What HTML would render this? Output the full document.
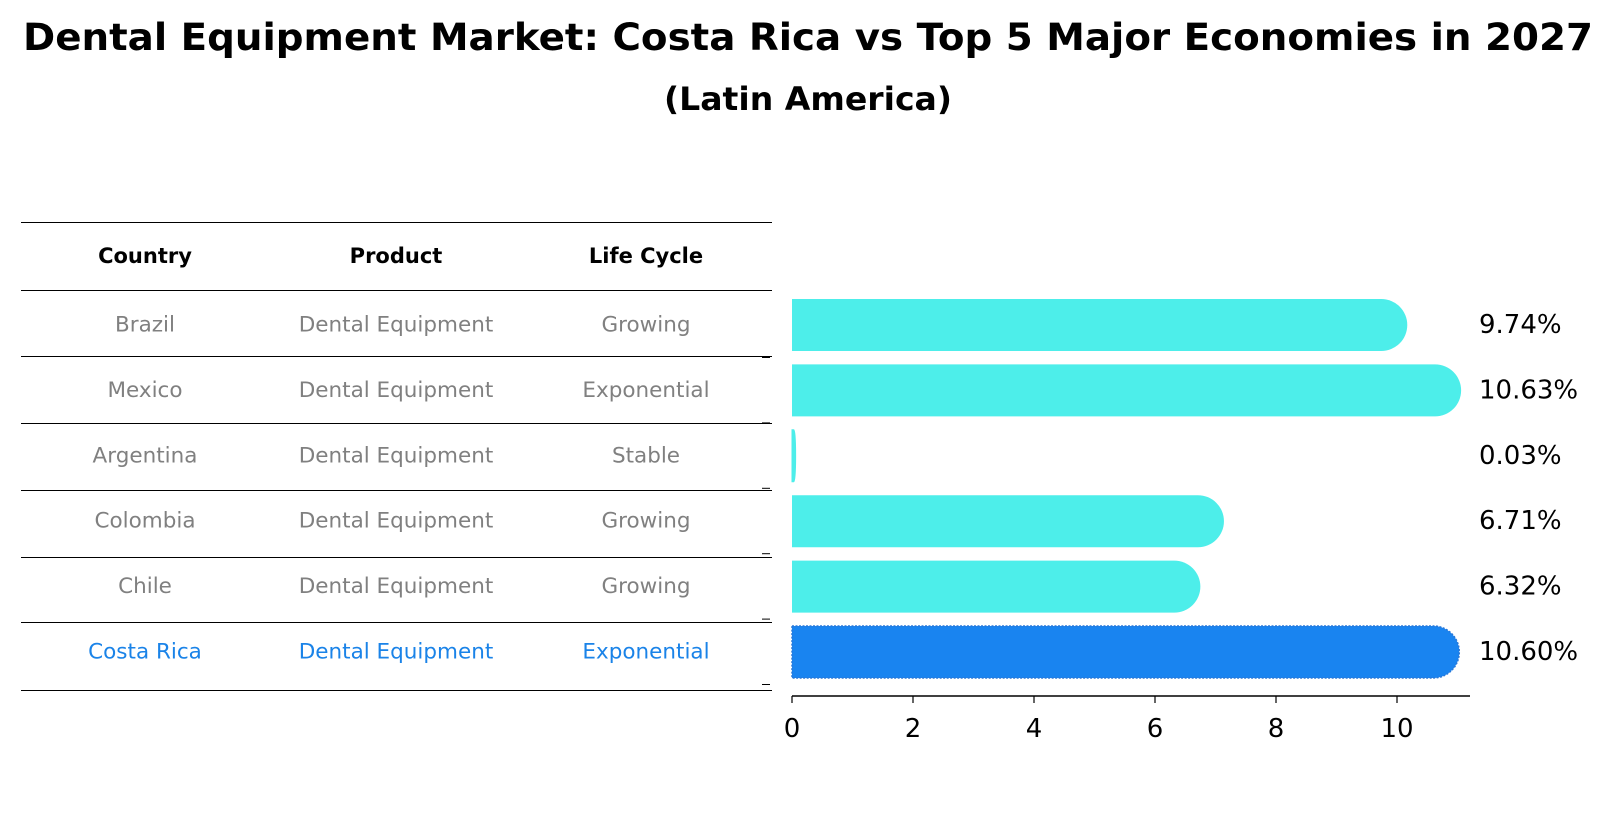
<!DOCTYPE html>
<html><head><meta charset="utf-8"><style>
body{margin:0;background:#fff;}
svg{display:block;font-family:"DejaVu Sans","Liberation Sans",sans-serif;}
</style></head><body>
<svg id="c" width="1613" height="823" viewBox="0 0 1613 823">
<text x="808" y="50" text-anchor="middle" font-size="37" font-weight="bold" textLength="1570" lengthAdjust="spacingAndGlyphs">Dental Equipment Market: Costa Rica vs Top 5 Major Economies in 2027</text>
<text x="808" y="110" text-anchor="middle" font-size="32" font-weight="bold" textLength="288" lengthAdjust="spacingAndGlyphs">(Latin America)</text>
<g id="table"></g>
<g id="bars"></g>
</svg>
<script>
const countries=["Brazil","Mexico","Argentina","Colombia","Chile","Costa Rica"];
const products=["Dental Equipment","Dental Equipment","Dental Equipment","Dental Equipment","Dental Equipment","Dental Equipment"];
const lifecycles=["Growing","Exponential","Stable","Growing","Growing","Exponential"];
const values=[9.74,10.63,0.03,6.71,6.32,10.60];
const valueLabels=["9.74%","10.63%","0.03%","6.71%","6.32%","10.60%"];
const ticks=[0,2,4,6,8,10];
const NS="http://www.w3.org/2000/svg";
function mk(t,a,p){const e=document.createElementNS(NS,t);for(const k in a)e.setAttribute(k,a[k]);p.appendChild(e);return e;}
const X0=792,PX=60.5;
function xs(v){return X0+v*PX;}
const rowY=[325,390,456,523,587.5,652];
function ys(i){return rowY[0]+i*(rowY[5]-rowY[0])/5;}
const tbl=document.getElementById('table');
const lineY=[222.5,290.5,356.5,423.5,490.5,557.5,622.5,690.5];
lineY.forEach((y,i)=>{const l=mk('line',{x1:21,x2:772,y1:y,y2:y,stroke:'#000','stroke-width':1},tbl);

});
const colX=[145,396,646];
["Country","Product","Life Cycle"].forEach((h,j)=>{const t=mk('text',{x:colX[j],y:256,'text-anchor':'middle','dominant-baseline':'central','font-size':21,'font-weight':'bold'},tbl);t.textContent=h;

});
countries.forEach((c,i)=>{const y=ys(i);const col=i===5?'#1a83e8':'#808080';
[c,products[i],lifecycles[i]].forEach((s,j)=>{const t=mk('text',{x:colX[j],y:y,'text-anchor':'middle','dominant-baseline':'central','font-size':21.5,fill:col},tbl);t.textContent=s;

});});
const bg=document.getElementById('bars');
const H=52;
values.forEach((v,i)=>{const cy=ys(i);const w=xs(v)-X0;const r=Math.min(26,w);const xe=xs(v)+r;const top=cy-H/2,bot=cy+H/2;
const d=`M${X0},${top} L${xe-r},${top} A${r},${H/2} 0 0 1 ${xe-r},${bot} L${X0},${bot} Z`;
const hl=i===5;
const p=mk('path',{d:d,fill:hl?'#1984f0':'#4deeea'},bg);
if(hl){p.setAttribute('stroke','#2a78d8');p.setAttribute('stroke-width','1.5');p.setAttribute('stroke-dasharray','2,1.5');}
if(w<3){p.setAttribute('stroke','#4deeea');p.setAttribute('stroke-width','1');}


const yt=mk('line',{x1:762,x2:770,y1:cy+H/2+6.5,y2:cy+H/2+6.5,stroke:'#000','stroke-width':1},bg);


const t=mk('text',{x:1479,y:cy,'dominant-baseline':'central','font-size':26},bg);t.textContent=valueLabels[i];

});
const ax=mk('line',{x1:X0,x2:1470,y1:696,y2:696,stroke:'#000','stroke-width':1.5},bg);


ticks.forEach(v=>{const tk=mk('line',{x1:xs(v),x2:xs(v),y1:696,y2:703,stroke:'#000','stroke-width':1.2},bg);


const t=mk('text',{x:xs(v),y:737,'text-anchor':'middle','font-size':26},bg);t.textContent=v;

});
</script>
</body></html>
